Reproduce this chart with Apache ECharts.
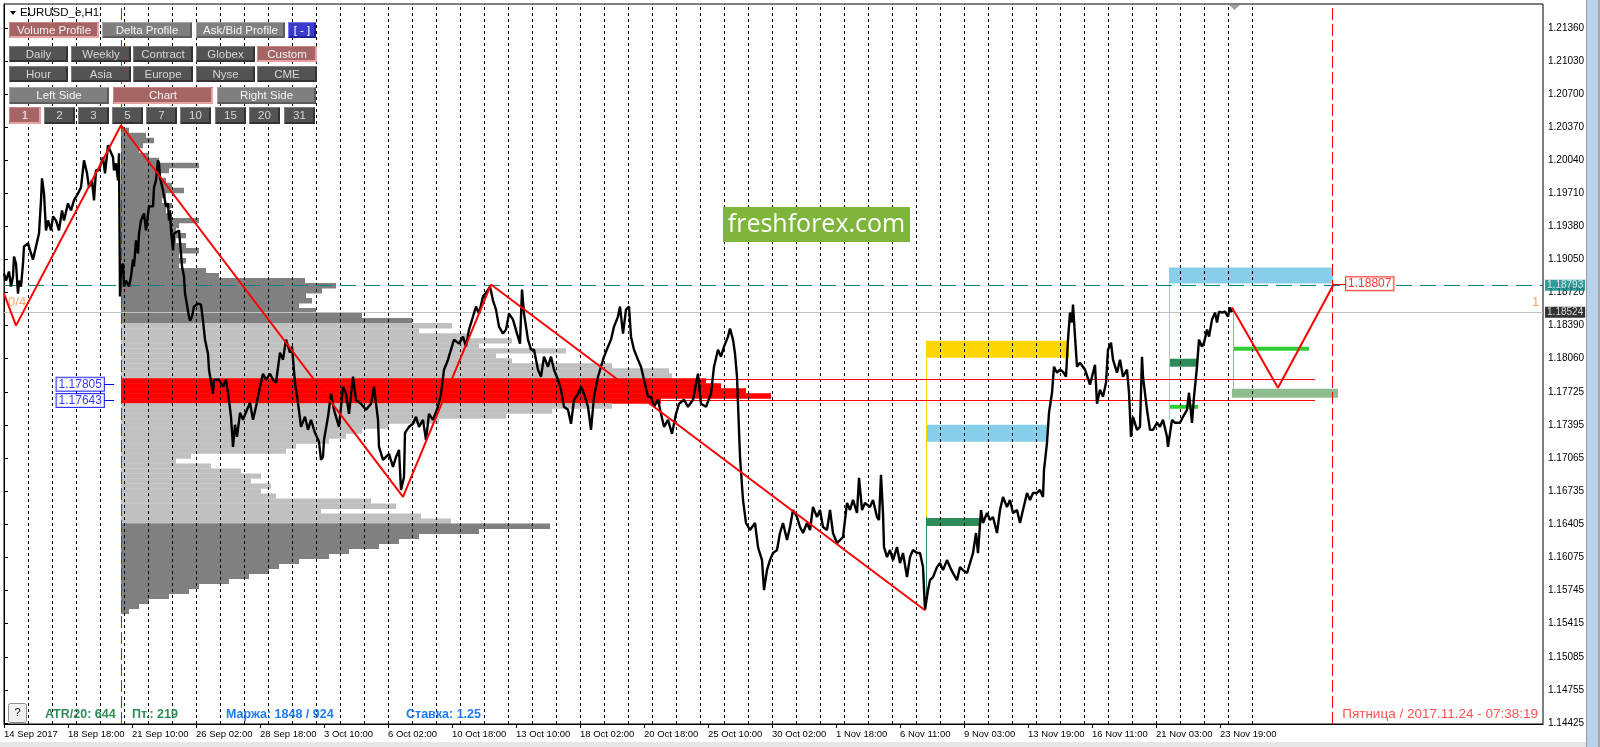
<!DOCTYPE html>
<html>
<head>
<meta charset="utf-8">
<title>EURUSD_e,H1</title>
<script src="https://cdn.jsdelivr.net/npm/echarts@6.0.0/dist/echarts.min.js"></script>
<style>
  html, body { margin: 0; padding: 0; background: #fff; overflow: hidden; }
  #chart { width: 1600px; height: 747px; }
</style>
</head>
<body>
<div id="chart"></div>
<script>
// x values are H1 bar numbers counted from 14 Sep 2017 00:00, y values are EURUSD prices

var dateLabels = ['14 Sep 2017', '18 Sep 18:00', '21 Sep 10:00', '26 Sep 02:00', '28 Sep 18:00',
  '3 Oct 10:00', '6 Oct 02:00', '10 Oct 18:00', '13 Oct 10:00', '18 Oct 02:00', '20 Oct 18:00',
  '25 Oct 10:00', '30 Oct 02:00', '1 Nov 18:00', '6 Nov 11:00', '9 Nov 03:00', '13 Nov 19:00',
  '16 Nov 11:00', '21 Nov 03:00', '23 Nov 19:00'];
var barsPerLabel = 64;

var priceTickLabels = [1.14425, 1.14755, 1.15085, 1.15415, 1.15745, 1.16075, 1.16405, 1.16735, 1.17065, 1.17395,
  1.17725, 1.18060, 1.18390, 1.18720, 1.19050, 1.19380, 1.19710, 1.20040, 1.20370, 1.20700, 1.21030, 1.21360];

var priceTrace = [
  [0,1.1891],[2,1.1884],[5,1.1893],[7,1.1878],[9,1.1888],[10,1.1908],[12,1.1901],[14,1.1871],[15,1.1884],[17,1.1878],
  [19,1.1901],[20,1.1918],[24,1.1921],[27,1.1911],[29,1.1905],[32,1.1918],[35,1.1931],[37,1.1964],[38,1.1986],[40,1.1971],
  [42,1.1934],[44,1.1944],[47,1.1934],[49,1.1948],[52,1.1944],[55,1.1934],[58,1.1954],[60,1.1944],[64,1.1961],[67,1.1954],
  [70,1.1964],[74,1.1971],[77,1.1977],[80,1.2004],[83,1.1991],[85,1.1977],[88,1.1984],[90,1.1964],[92,1.1994],[95,1.1994],
  [97,1.2001],[99,1.2007],[101,1.1991],[104,1.2019],[106,1.2014],[109,1.2007],[110,1.1994],[112,1.2001],[114,1.1984],[115,1.2011],
  [116,1.1868],[117,1.1895],[119,1.1901],[120,1.1878],[122,1.1884],[125,1.1878],[127,1.1888],[129,1.1905],[130,1.1898],[132,1.1924],
  [134,1.1911],[135,1.1931],[137,1.1944],[140,1.1951],[142,1.1934],[145,1.1958],[149,1.1958],[150,1.1977],[152,1.1984],[154,1.2004],
  [155,1.2001],[156,1.1987],[159,1.1974],[162,1.1958],[164,1.1961],[165,1.1944],[166,1.1954],[167,1.1934],[169,1.1914],[170,1.1931],
  [175,1.1934],[177,1.1911],[178,1.1898],[180,1.1888],[181,1.1871],[185,1.1848],[186,1.1844],[188,1.1848],[190,1.1858],[194,1.1861],
  [197,1.1860],[199,1.1844],[201,1.1825],[204,1.1811],[205,1.1795],[209,1.1771],[210,1.1785],[215,1.1785],[219,1.1778],[222,1.1785],
  [225,1.1765],[227,1.1748],[229,1.1718],[231,1.1740],[233,1.1728],[236,1.1752],[239,1.1745],[243,1.1755],[246,1.1762],[249,1.1745],
  [252,1.1758],[256,1.1778],[259,1.1791],[262,1.1785],[266,1.1791],[269,1.1785],[272,1.1782],[276,1.1812],[279,1.1805],[282,1.1825],
  [286,1.1812],[288,1.1818],[291,1.1782],[294,1.1762],[297,1.1738],[301,1.1748],[304,1.1735],[307,1.1745],[311,1.1732],[315,1.1723],
  [317,1.1705],[319,1.1708],[320,1.1725],[324,1.1748],[327,1.1771],[330,1.1755],[335,1.1738],[339,1.1778],[342,1.1771],[345,1.1751],
  [349,1.1788],[352,1.1765],[357,1.1761],[362,1.1755],[367,1.1761],[370,1.1778],[374,1.1745],[375,1.1718],[379,1.1705],[382,1.1708],
  [385,1.1711],[389,1.1698],[392,1.1708],[395,1.1715],[397,1.1675],[400,1.1688],[401,1.1732],[405,1.1738],[409,1.1741],[412,1.1748],
  [415,1.1738],[419,1.1745],[422,1.1725],[425,1.1751],[429,1.1745],[434,1.1758],[437,1.1771],[440,1.1795],[444,1.1805],[447,1.1815],
  [450,1.1825],[455,1.1821],[459,1.1828],[462,1.1818],[465,1.1835],[469,1.1848],[472,1.1858],[475,1.1851],[479,1.1868],[483,1.1873],
  [486,1.1878],[489,1.1864],[492,1.1855],[495,1.1838],[499,1.1831],[502,1.1835],[505,1.1851],[509,1.1845],[513,1.1831],[516,1.1821],
  [518,1.1875],[520,1.1851],[524,1.1825],[527,1.1815],[530,1.1815],[534,1.1795],[537,1.1788],[540,1.1808],[544,1.1798],[547,1.1808],
  [550,1.1795],[554,1.1785],[557,1.1775],[560,1.1758],[564,1.1755],[567,1.1741],[570,1.1765],[574,1.1771],[577,1.1778],[580,1.1771],
  [584,1.1758],[587,1.1735],[590,1.1768],[594,1.1788],[597,1.1798],[600,1.1808],[604,1.1818],[607,1.1825],[610,1.1838],[614,1.1848],
  [616,1.1858],[619,1.1831],[622,1.1855],[625,1.1858],[627,1.1828],[630,1.1815],[634,1.1805],[637,1.1798],[640,1.1785],[644,1.1768],
  [647,1.1768],[650,1.1758],[654,1.1765],[657,1.1751],[660,1.1738],[664,1.1745],[668,1.1731],[672,1.1751],[675,1.1761],[680,1.1765],
  [684,1.1758],[689,1.1765],[694,1.1791],[697,1.1761],[702,1.1758],[707,1.1771],[710,1.1798],[714,1.1815],[717,1.1808],[720,1.1818],
  [724,1.1828],[726,1.1836],[729,1.1825],[731,1.1811],[733,1.1788],[736,1.1708],[739,1.1665],[742,1.1642],[746,1.1635],[751,1.1642],
  [754,1.1618],[758,1.1605],[760,1.1575],[763,1.1595],[766,1.1605],[769,1.1612],[773,1.1615],[776,1.1632],[779,1.1642],[783,1.1625],
  [786,1.1638],[789,1.1655],[793,1.1648],[796,1.1638],[799,1.1632],[803,1.1642],[806,1.1635],[809,1.1658],[813,1.1648],[816,1.1655],
  [819,1.1638],[823,1.1635],[826,1.1655],[829,1.1632],[833,1.1622],[836,1.1625],[839,1.1628],[843,1.1662],[846,1.1655],[849,1.1665],
  [853,1.1652],[855,1.1687],[858,1.1655],[861,1.1662],[866,1.1658],[869,1.1665],[873,1.1648],[875,1.1645],[877,1.1690],[879,1.1652],
  [880,1.1618],[883,1.1608],[886,1.1615],[889,1.1605],[893,1.1618],[896,1.1602],[899,1.1612],[903,1.1588],[906,1.1608],[909,1.1615],
  [913,1.1612],[916,1.1612],[919,1.1598],[921,1.1555],[924,1.1575],[926,1.1585],[929,1.1588],[933,1.1598],[936,1.1602],[939,1.1595],
  [943,1.1605],[946,1.1598],[949,1.1592],[953,1.1585],[956,1.1598],[959,1.1595],[963,1.1592],[966,1.1602],[969,1.1612],[972,1.1632],
  [974,1.1612],[977,1.1655],[979,1.1642],[983,1.1652],[986,1.1645],[989,1.1648],[993,1.1632],[996,1.1655],[999,1.1668],[1003,1.1658],
  [1006,1.1665],[1009,1.1652],[1013,1.1655],[1016,1.1642],[1019,1.1655],[1023,1.1672],[1026,1.1665],[1029,1.1672],[1033,1.1672],[1036,1.1675],
  [1039,1.1668],[1040,1.1695],[1043,1.1722],[1045,1.1752],[1048,1.1772],[1050,1.1798],[1053,1.1792],[1056,1.1795],[1059,1.1793],[1062,1.1788],
  [1064,1.1825],[1066,1.1852],[1068,1.1842],[1069,1.1860],[1071,1.1828],[1073,1.1798],[1076,1.1802],[1081,1.1795],[1086,1.1780],[1091,1.1800],
  [1093,1.1761],[1096,1.1775],[1099,1.1768],[1102,1.1782],[1104,1.1815],[1107,1.1822],[1109,1.1805],[1113,1.1792],[1116,1.1805],[1119,1.1788],
  [1123,1.1795],[1125,1.1772],[1127,1.1728],[1129,1.1748],[1133,1.1735],[1136,1.1738],[1138,1.1808],[1139,1.1788],[1143,1.1755],[1146,1.1735],
  [1149,1.1735],[1153,1.1742],[1156,1.1738],[1159,1.1745],[1163,1.1728],[1164,1.1718],[1168,1.1745],[1171,1.1742],[1176,1.1742],[1179,1.1748],
  [1183,1.1755],[1185,1.1772],[1188,1.1742],[1190,1.1768],[1193,1.1798],[1195,1.1825],[1198,1.1818],[1200,1.1822],[1203,1.1835],[1205,1.1828],
  [1208,1.1845],[1211,1.1852],[1213,1.1842],[1215,1.1853],[1218,1.1852],[1221,1.1853],[1224,1.1848],[1226,1.1857],[1228,1.18524]
];

var zigzagPoints = [[0,1.1871],[12,1.1839],[117,1.2039],[399,1.1668],[487,1.1880],[921,1.1555]];
var forecastPoints = [[1228,1.1857],[1274,1.1777],[1330,1.18807]];
var targetPrice = 1.18807;

// volume profile: one row every 5 pips from the top level down, length in bars
var profileStartBar = 117;
var profileTopPrice = 1.2034;
var profileStep = 0.0005;
var profileVolumes = [
  8, 25, 33, 22, 18, 28, 38, 78, 48, 38, 45, 51, 63, 45, 41, 51, 45, 51, 78, 58,
  55, 65, 55, 65, 78, 58, 65, 58, 85, 98, 184, 215, 201, 185, 191, 178, 195, 241, 291, 331,
  298, 348, 391, 358, 445, 375, 391, 491, 548, 551, 585, 600, 625, 650, 540, 491, 431, 385, 318, 268,
  241, 225, 208, 175, 165, 70, 55, 90, 120, 140, 130, 150, 140, 155, 250, 275, 200, 300, 330, 429,
  358, 298, 278, 258, 228, 208, 178, 158, 148, 128, 108, 78, 68, 48, 28, 18, 8
];
var valueArea = [1.1641, 1.1841];
var pocZone = [1.1762, 1.1786];
var profileLevels = [1.1786, 1.17643];
var profileLevelEndBar = 1311;
var levelTags = [1.17805, 1.17643];

var askPrice = 1.18793;
var bidPrice = 1.18524;
var rangeBars = [117, 1327.5];

// [start bar, end bar, top price, bottom price]
var zoneBoxes = [
  [922, 1065, 1.1824, 1.1807],
  [922, 1043, 1.1740, 1.1723],
  [922, 976, 1.1647, 1.1639],
  [1165, 1329, 1.1897, 1.1881],
  [1165, 1194, 1.1806, 1.1798],
  [1165, 1194, 1.1760, 1.1756],
  [1229, 1305, 1.1818, 1.1814],
  [1228, 1334, 1.1776, 1.1767]
];
// [bar, from price, to price]
var zoneLinks = [[921.5, 1.1807, 1.1648], [921.5, 1.1648, 1.1568], [1165, 1.1881, 1.1745], [1228.5, 1.1855, 1.1776]];

var firstSeparatorBar = 23.5;
var barsPerDay = 24;
var lastSeparatorBar = 1247.5;

// ---- styling ----
var zoneColors = ['#ffd700', '#87ceeb', '#2e8b57', '#87ceeb', '#2e8b57', '#32cd32', '#32cd32', '#8fbc8f'];
var zoneLinkColors = ['#ffd700', '#2e8b57', '#87ceeb', '#8fbc8f'];

var X_MAX = 1539, Y_MIN = 1.14414, Y_MAX = 1.216;
var UI_FONT = '"Liberation Sans", Arial, sans-serif';
var AXIS_FONT = '"Liberation Sans", Arial, sans-serif';

var chart = echarts.init(document.getElementById('chart'));

function segments(data, style, z) {
  return {
    type: 'custom', z: z, silent: true, clip: true,
    encode: { x: [0, 2], y: [1, 3] },
    data: data,
    renderItem: function (params, api) {
      var a = api.coord([api.value(0), api.value(1)]);
      var b = api.coord([api.value(2), api.value(3)]);
      if (Math.abs(a[0] - b[0]) < 0.01) { a[0] = b[0] = Math.round(a[0]) + 0.5; }
      if (Math.abs(a[1] - b[1]) < 0.01) { a[1] = b[1] = Math.round(a[1]) + 0.5; }
      var st = typeof style === 'function' ? style(params.dataIndex) : style;
      return { type: 'line', shape: { x1: a[0], y1: a[1], x2: b[0], y2: b[1] }, style: Object.assign({}, st) };
    }
  };
}

var separatorData = [];
for (var b = firstSeparatorBar; b <= lastSeparatorBar; b += barsPerDay) separatorData.push([b, Y_MIN, b, Y_MAX]);

var dateTickBars = dateLabels.map(function (d, i) { return i * barsPerLabel; });

var profileData = profileVolumes.map(function (v, i) {
  return [v, +(profileTopPrice - i * profileStep).toFixed(4)];
});

function tag(bar, price, text, pos, label) {
  return { value: [bar, price], label: Object.assign({ show: true, formatter: text, position: pos, distance: 0 }, label) };
}

var boxLabel = { fontFamily: UI_FONT, fontSize: 12, backgroundColor: '#fff', borderWidth: 1, padding: [1, 2, 0, 2] };
var axisTag = { fontFamily: AXIS_FONT, fontSize: 10, color: '#fff', padding: [1, 2, 0, 2], distance: 2 };

var palettes = {
  rose: { fill: '#a66565', light: '#c98787', dark: '#e6a3a3', text: '#f2f2f2' },
  mid: { fill: '#7f7f7f', light: '#a5a5a5', dark: '#5c5c5c', text: '#f5f5f5' },
  dark: { fill: '#535353', light: '#7d7d7d', dark: '#333333', text: '#d6d6d6' },
  blue: { fill: '#3a3acb', light: '#7777ff', dark: '#2020a0', text: '#ffffff' }
};

function button(x, y, w, h, text, kind) {
  var p = palettes[kind];
  return {
    type: 'group', x: x, y: y, z: 100, silent: true, children: [
      { type: 'rect', z: 100, shape: { x: 0, y: 0, width: w, height: h }, style: { fill: p.fill } },
      { type: 'polyline', z: 101, shape: { points: [[0.5, h - 0.5], [0.5, 0.5], [w - 0.5, 0.5]] }, style: { stroke: p.light, lineWidth: 1, fill: null } },
      { type: 'polyline', z: 101, shape: { points: [[1, h - 1], [w - 1, h - 1], [w - 1, 1]] }, style: { stroke: p.dark, lineWidth: 2, fill: null } },
      { type: 'text', z: 102, x: w / 2, y: h / 2 + 0.5, style: { text: text, fill: p.text, font: '11.5px ' + UI_FONT, textAlign: 'center', align: 'center', textVerticalAlign: 'middle', verticalAlign: 'middle' } }
    ]
  };
}

function label(x, y, text, fill, font, align) {
  return { type: 'text', z: 100, silent: true, x: x, y: y, style: { text: text, fill: fill, font: font, textAlign: align || 'left', align: align || 'left', textVerticalAlign: 'middle', verticalAlign: 'middle' } };
}

var buttons = [
  button(9, 22, 90, 16, 'Volume Profile', 'rose'), button(102, 22, 90, 16, 'Delta Profile', 'mid'),
  button(196, 22, 89, 16, 'Ask/Bid Profile', 'mid'), button(288, 22, 28, 16, '[ - ]', 'blue'),
  button(9, 46, 59, 16, 'Daily', 'dark'), button(71, 46, 60, 16, 'Weekly', 'dark'), button(133, 46, 60, 16, 'Contract', 'dark'),
  button(196, 46, 59, 16, 'Globex', 'dark'), button(257, 46, 60, 16, 'Custom', 'rose'),
  button(9, 66, 59, 16, 'Hour', 'dark'), button(71, 66, 60, 16, 'Asia', 'dark'), button(133, 66, 60, 16, 'Europe', 'dark'),
  button(196, 66, 59, 16, 'Nyse', 'dark'), button(257, 66, 60, 16, 'CME', 'dark'),
  button(9, 87, 100, 17, 'Left Side', 'mid'), button(113, 87, 100, 17, 'Chart', 'rose'), button(217, 87, 99, 17, 'Right Side', 'mid'),
  button(9, 107, 32, 17, '1', 'rose'), button(44, 107, 31, 17, '2', 'dark'), button(78, 107, 31, 17, '3', 'dark'),
  button(112, 107, 31, 17, '5', 'dark'), button(146, 107, 31, 17, '7', 'dark'), button(180, 107, 31, 17, '10', 'dark'),
  button(215, 107, 31, 17, '15', 'dark'), button(249, 107, 31, 17, '20', 'dark'), button(284, 107, 31, 17, '31', 'dark')
];

var chrome = [
  { type: 'rect', z: 100, silent: true, shape: { x: 1586, y: 0, width: 1, height: 747 }, style: { fill: '#9a9a9a' } },
  { type: 'rect', z: 100, silent: true, shape: { x: 1587, y: 0, width: 11, height: 747 }, style: { fill: '#b9d1ea' } },
  { type: 'rect', z: 100, silent: true, shape: { x: 1598, y: 0, width: 2, height: 747 }, style: { fill: '#a8a8a8' } },
  { type: 'rect', z: 100, silent: true, shape: { x: 0, y: 742, width: 1586, height: 5 }, style: { fill: '#e6e6e6' } },
  { type: 'polygon', z: 100, silent: true, shape: { points: [[1229, 5], [1240, 5], [1234.5, 10]] }, style: { fill: '#a0a0a0' } },
  { type: 'polygon', z: 100, silent: true, shape: { points: [[10, 11], [16, 11], [13, 15]] }, style: { fill: '#000' } },
  label(20, 13, 'EURUSD_e,H1', '#000', '11.5px ' + UI_FONT),
  { type: 'rect', z: 100, silent: true, shape: { x: 723, y: 207, width: 187, height: 35 }, style: { fill: '#80b53c' } },
  label(816.5, 225, 'freshforex.com', '#ffffff', '25px "Open Sans", "Noto Sans", sans-serif', 'center'),
  { type: 'rect', z: 100, silent: true, shape: { x: 8.5, y: 703.5, width: 18, height: 19, r: 2 }, style: { fill: '#f0f0f0', stroke: '#8c8c8c', lineWidth: 1 } },
  label(17.5, 713, '?', '#000', '11px ' + UI_FONT, 'center'),
  label(45, 715, 'ATR/20: 644', '#2f8c57', 'bold 12.5px ' + UI_FONT),
  label(132, 715, 'Пт.: 219', '#2f8c57', 'bold 12.5px ' + UI_FONT),
  label(226, 715, 'Маржа: 1848 / 924', '#1f7cf0', 'bold 12.5px ' + UI_FONT),
  label(406, 715, 'Ставка: 1.25', '#1f7cf0', 'bold 12.5px ' + UI_FONT),
  label(1538, 714, 'Пятница / 2017.11.24 - 07:38:19', '#ff5050', '13.5px ' + UI_FONT, 'right')
];

var option = {
  animation: false,
  backgroundColor: '#ffffff',
  grid: { left: 4, right: 57, top: 4, bottom: 23, show: true, borderColor: '#000', borderWidth: 1, backgroundColor: '#fff', outerBoundsMode: 'none', containLabel: false },
  xAxis: {
    type: 'value', min: 0, max: X_MAX,
    axisLine: { show: true, lineStyle: { color: '#000', width: 1 } },
    axisTick: { show: true, length: 4, lineStyle: { color: '#000' }, customValues: dateTickBars },
    splitLine: { show: false },
    axisLabel: {
      customValues: dateTickBars, showMinLabel: true, showMaxLabel: true, hideOverlap: false,
      align: 'left', margin: 5, color: '#000', fontSize: 9.5, fontFamily: AXIS_FONT,
      formatter: function (v) { return dateLabels[Math.round(v / barsPerLabel)] || ''; }
    }
  },
  yAxis: {
    type: 'value', position: 'right', min: Y_MIN, max: Y_MAX,
    axisLine: { show: true, lineStyle: { color: '#000', width: 1 } },
    axisTick: { show: true, length: 4, lineStyle: { color: '#000' }, customValues: priceTickLabels },
    splitLine: { show: false },
    axisLabel: { customValues: priceTickLabels, showMinLabel: true, showMaxLabel: true, margin: 5, color: '#000', fontSize: 10, fontFamily: AXIS_FONT, formatter: function (v) { return v.toFixed(5); } }
  },
  graphic: { elements: chrome.concat(buttons) },
  series: [
    {
      type: 'custom', z: 1, silent: true, clip: true, encode: { x: 0, y: 1 }, data: profileData,
      renderItem: function (params, api) {
        var vol = api.value(0), price = api.value(1);
        var a = api.coord([profileStartBar, price + profileStep / 2]);
        var c = api.coord([profileStartBar + vol, price - profileStep / 2]);
        var fill = (price >= pocZone[0] && price <= pocZone[1]) ? '#ff0000'
          : (price >= valueArea[0] && price <= valueArea[1]) ? '#c0c0c0' : '#808080';
        return { type: 'rect', shape: { x: a[0], y: a[1], width: c[0] - a[0], height: c[1] - a[1] + 0.4 }, style: { fill: fill } };
      }
    },
    {
      type: 'custom', z: 2, silent: true, clip: true, encode: { x: [0, 1], y: [2, 3] }, data: zoneBoxes,
      renderItem: function (params, api) {
        var a = api.coord([api.value(0), api.value(2)]);
        var c = api.coord([api.value(1), api.value(3)]);
        return { type: 'rect', shape: { x: a[0], y: a[1], width: c[0] - a[0], height: c[1] - a[1] }, style: { fill: zoneColors[params.dataIndex] } };
      }
    },
    segments(separatorData, { stroke: '#000', lineWidth: 1, lineDash: [3, 3] }, 3),
    segments(rangeBars.map(function (r) { return [r, Y_MIN, r, Y_MAX]; }), { stroke: '#ff0000', lineWidth: 1, lineDash: [12, 4] }, 3),
    segments(zoneLinks.map(function (l) { return [l[0], l[1], l[0], l[2]]; }), function (i) { return { stroke: zoneLinkColors[i], lineWidth: 1 }; }, 4),
    segments([[0, bidPrice, X_MAX, bidPrice]], { stroke: '#c0c0c0', lineWidth: 1 }, 4),
    segments([[0, askPrice, X_MAX, askPrice]], { stroke: '#008080', lineWidth: 1, lineDash: [16, 8] }, 4),
    segments(profileLevels.map(function (p) { return [profileStartBar, p, profileLevelEndBar, p]; }), { stroke: '#ff0000', lineWidth: 1 }, 4),
    segments(levelTags.map(function (p) { return [100, p, 110, p]; }), { stroke: '#0000ff', lineWidth: 1 }, 4),
    segments([[forecastPoints[2][0], targetPrice, forecastPoints[2][0] + 12, targetPrice]], { stroke: '#ff0000', lineWidth: 1 }, 4),
    {
      type: 'line', z: 5, silent: true, data: priceTrace, showSymbol: false, symbol: 'none',
      lineStyle: { color: '#000', width: 2.4 }, clip: true
    },
    {
      type: 'line', z: 6, silent: true, data: zigzagPoints, showSymbol: false, symbol: 'none',
      lineStyle: { color: '#ff0000', width: 2 }, clip: true
    },
    {
      type: 'line', z: 6, silent: true, data: forecastPoints, showSymbol: false, symbol: 'none',
      lineStyle: { color: '#ff0000', width: 2 }, clip: true
    },
    {
      type: 'scatter', z: 8, silent: true, symbolSize: 0.1, itemStyle: { color: 'rgba(0,0,0,0)' }, clip: false,
      data: [
        tag(forecastPoints[2][0] + 12, targetPrice, String(targetPrice), 'right', Object.assign({ color: '#ff0000', borderColor: '#ff0000' }, boxLabel)),
        tag(100, levelTags[0], levelTags[0].toFixed(5), 'left', Object.assign({ color: '#0000ff', borderColor: '#0000ff' }, boxLabel)),
        tag(100, levelTags[1], levelTags[1].toFixed(5), 'left', Object.assign({ color: '#0000ff', borderColor: '#0000ff' }, boxLabel)),
        tag(X_MAX, askPrice, askPrice.toFixed(5), 'right', Object.assign({ backgroundColor: '#008080' }, axisTag)),
        tag(X_MAX, bidPrice, bidPrice.toFixed(5), 'right', Object.assign({ backgroundColor: '#000000' }, axisTag)),
        tag(4, 1.1862, '0/4', 'right', { color: '#ff8c40', fontSize: 13, fontFamily: UI_FONT }),
        tag(1528, 1.1862, '1', 'right', { color: '#ff8c40', fontSize: 13, fontFamily: UI_FONT })
      ]
    }
  ]
};

chart.setOption(option);
</script>
</body>
</html>
